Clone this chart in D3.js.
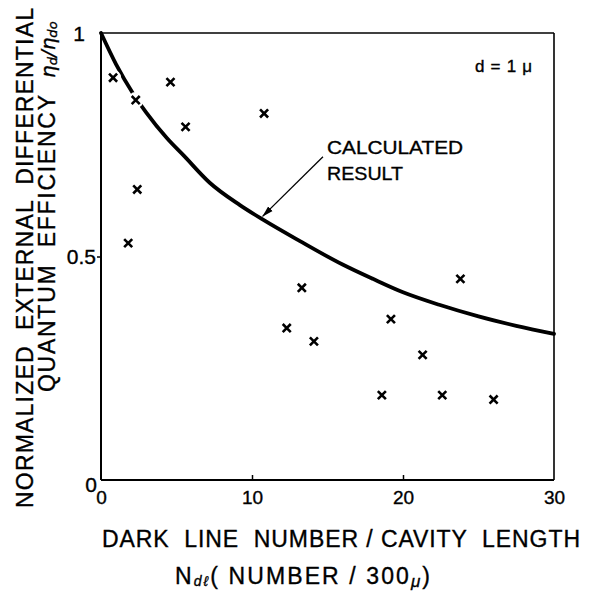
<!DOCTYPE html>
<html>
<head>
<meta charset="utf-8">
<script src="https://cdn.jsdelivr.net/npm/d3@7"></script>
<style>
  body { margin: 0; background: white; }
  svg { display: block; }
  text { stroke: black; stroke-width: 0.35px; }
</style>
</head>
<body>
<script>

// measured points (dark line number, normalized efficiency)
var pointX = [0.8, 2.3, 4.6, 5.6, 10.8, 2.4, 1.8, 13.3, 23.8, 12.3, 14.1, 19.2, 21.3, 18.6, 22.6, 26.0];
var pointY = [0.90, 0.85, 0.89, 0.79, 0.82, 0.65, 0.53, 0.43, 0.45, 0.34, 0.31, 0.36, 0.28, 0.19, 0.19, 0.18];

// calculated result curve
var curveX = [0, 1, 2.1, 3, 4.36, 5.5, 7.2, 9.2, 10.7, 13.15, 16, 18, 20, 22.4, 25, 27.5, 30];
var curveY = [1, 0.93, 0.866, 0.822, 0.765, 0.725, 0.665, 0.615, 0.583, 0.535, 0.482, 0.45, 0.42, 0.392, 0.366, 0.345, 0.327];

// ticks
var xTicks = [0, 10, 20, 30];
var xTickLabels = ["0", "10", "20", "30"];
var yTicks = [0, 0.5, 1];
var yTickLabels = ["0", "0.5", "1"];

var W = 595, H = 595;
var font = "'Liberation Sans', Arial, sans-serif";

var svg = d3.select("body").append("svg")
    .attr("width", W).attr("height", H);

// scales
var x = d3.scaleLinear().domain([0, 30]).range([101, 554]);
var y = d3.scaleLinear().domain([0, 1]).range([480, 33]);

// frame -- left and bottom heavier than top and right
svg.append("line").attr("x1", x(0)).attr("x2", x(30)).attr("y1", y(1)).attr("y2", y(1))
    .attr("stroke", "black").attr("stroke-width", 1.6);
svg.append("line").attr("x1", x(30)).attr("x2", x(30)).attr("y1", y(1)).attr("y2", y(0))
    .attr("stroke", "black").attr("stroke-width", 1.6);

// x axis, ticks pointing inward
var xAxis = svg.append("g")
    .attr("transform", "translate(0," + y(0) + ")")
    .call(d3.axisBottom(x).tickValues(xTicks)
        .tickFormat(function(d, i) { return xTickLabels[i]; })
        .tickSize(-5).tickPadding(11));
xAxis.select(".domain").attr("stroke-width", 2).attr("d", "M" + x(0) + ",0H" + x(30));
xAxis.selectAll(".tick line").attr("stroke-width", 1.5)
    .filter(function(d) { return d == 0 || d == 30; }).remove();
xAxis.selectAll(".tick text").attr("font-family", font).attr("font-size", 19).attr("fill", "black");

// y axis, small outward tick at 0.5 only
var yAxis = svg.append("g")
    .attr("transform", "translate(" + x(0) + ",0)")
    .call(d3.axisLeft(y).tickValues(yTicks)
        .tickFormat(function(d, i) { return yTickLabels[i]; })
        .tickSize(4).tickPadding(1));
yAxis.select(".domain").attr("stroke-width", 2).attr("d", "M0," + y(0) + "V" + y(1));
yAxis.selectAll(".tick line").attr("stroke-width", 1.5)
    .filter(function(d) { return d != 0.5; }).remove();
yAxis.selectAll(".tick text").attr("font-family", font).attr("font-size", 21).attr("fill", "black")
    .attr("dx", function(d) { return d == 1 ? -11 : (d == 0 ? 1 : 0); })
    .attr("dy", function(d) { return d == 0 ? "0.55em" : "0.34em"; });

// calculated curve
var line = d3.line()
    .x(function(d, i) { return x(curveX[i]); })
    .y(function(d, i) { return y(curveY[i]); })
    .curve(d3.curveMonotoneX);

svg.append("path")
    .attr("d", line(curveX))
    .attr("fill", "none")
    .attr("stroke", "black")
    .attr("stroke-width", 3.8)
    .attr("stroke-linecap", "round");

// white halo round each point so the curve breaks where a point sits on it
svg.selectAll("circle.halo").data(pointX).enter().append("circle")
    .attr("class", "halo")
    .attr("cx", function(d) { return x(d); })
    .attr("cy", function(d, i) { return y(pointY[i]); })
    .attr("r", 8)
    .attr("fill", "white");

// x markers
var cross = d3.symbol().type(d3.symbolTimes).size(44);
svg.selectAll("path.pt").data(pointX).enter().append("path")
    .attr("class", "pt")
    .attr("transform", function(d, i) { return "translate(" + x(d) + "," + y(pointY[i]) + ")"; })
    .attr("d", cross)
    .attr("fill", "none")
    .attr("stroke", "black")
    .attr("stroke-width", 2.6);

// annotation: calculated result with arrow
var defs = svg.append("defs");
defs.append("marker")
    .attr("id", "arrow")
    .attr("viewBox", "0 0 12 8")
    .attr("refX", 11).attr("refY", 4)
    .attr("markerWidth", 12).attr("markerHeight", 8)
    .attr("markerUnits", "userSpaceOnUse")
    .attr("orient", "auto")
    .append("path")
    .attr("d", "M0,0.8 L11.5,4 L0,7.2 Z")
    .attr("fill", "black");

svg.append("line")
    .attr("x1", x(14.7)).attr("y1", y(0.723))
    .attr("x2", x(10.7)).attr("y2", y(0.583) - 3)
    .attr("stroke", "black").attr("stroke-width", 1.3)
    .attr("marker-end", "url(#arrow)");

svg.append("text")
    .attr("x", x(14.97)).attr("y", y(0.729))
    .attr("font-family", font).attr("font-size", 19)
    .attr("textLength", 136).attr("lengthAdjust", "spacingAndGlyphs")
    .text("CALCULATED");
svg.append("text")
    .attr("x", x(14.97)).attr("y", y(0.671))
    .attr("font-family", font).attr("font-size", 19)
    .attr("textLength", 76).attr("lengthAdjust", "spacingAndGlyphs")
    .text("RESULT");

// d = 1 mu
svg.append("text")
    .attr("x", 475).attr("y", 72)
    .attr("font-family", font).attr("font-size", 17)
    .attr("textLength", 57).attr("lengthAdjust", "spacing")
    .text("d = 1 μ");

// x axis title
svg.append("text")
    .attr("x", 102).attr("y", 547)
    .attr("font-family", font).attr("font-size", 23)
    .style("white-space", "pre")
    .attr("textLength", 478).attr("lengthAdjust", "spacing")
    .text("DARK  LINE  NUMBER / CAVITY  LENGTH");

var t2 = svg.append("text")
    .attr("x", 175).attr("y", 584)
    .attr("font-family", font).attr("font-size", 23)
    .attr("textLength", 255).attr("lengthAdjust", "spacing")
    .style("white-space", "pre");
t2.append("tspan").text("N");
t2.append("tspan").attr("font-size", 14).attr("dy", 2).attr("font-style", "italic").text("dℓ");
t2.append("tspan").attr("dy", -2).text("( NUMBER / 300");
t2.append("tspan").attr("font-size", 17).attr("dy", 3).attr("font-style", "italic").text("μ");
t2.append("tspan").attr("dy", -3).text(")");

// y axis title, two lines reading upward
svg.append("text")
    .attr("transform", "translate(33,508) rotate(-90)")
    .attr("font-family", font).attr("font-size", 23)
    .style("white-space", "pre")
    .attr("textLength", 500).attr("lengthAdjust", "spacing")
    .text("NORMALIZED  EXTERNAL  DIFFERENTIAL");

svg.append("text")
    .attr("transform", "translate(55,392) rotate(-90)")
    .attr("font-family", font).attr("font-size", 23)
    .style("white-space", "pre")
    .attr("textLength", 297).attr("lengthAdjust", "spacing")
    .text("QUANTUM  EFFICIENCY");

var eta = svg.append("text")
    .attr("transform", "translate(55,78) rotate(-90)")
    .attr("font-family", "'DejaVu Sans', sans-serif").attr("font-size", 20)
    .attr("font-style", "italic");
eta.append("tspan").text("η");
eta.append("tspan").attr("font-size", 13).attr("dy", 2).text("d");
eta.append("tspan").attr("dy", -2).text("/η");
eta.append("tspan").attr("font-size", 13).attr("dy", 2).text("do");

</script>
</body>
</html>
